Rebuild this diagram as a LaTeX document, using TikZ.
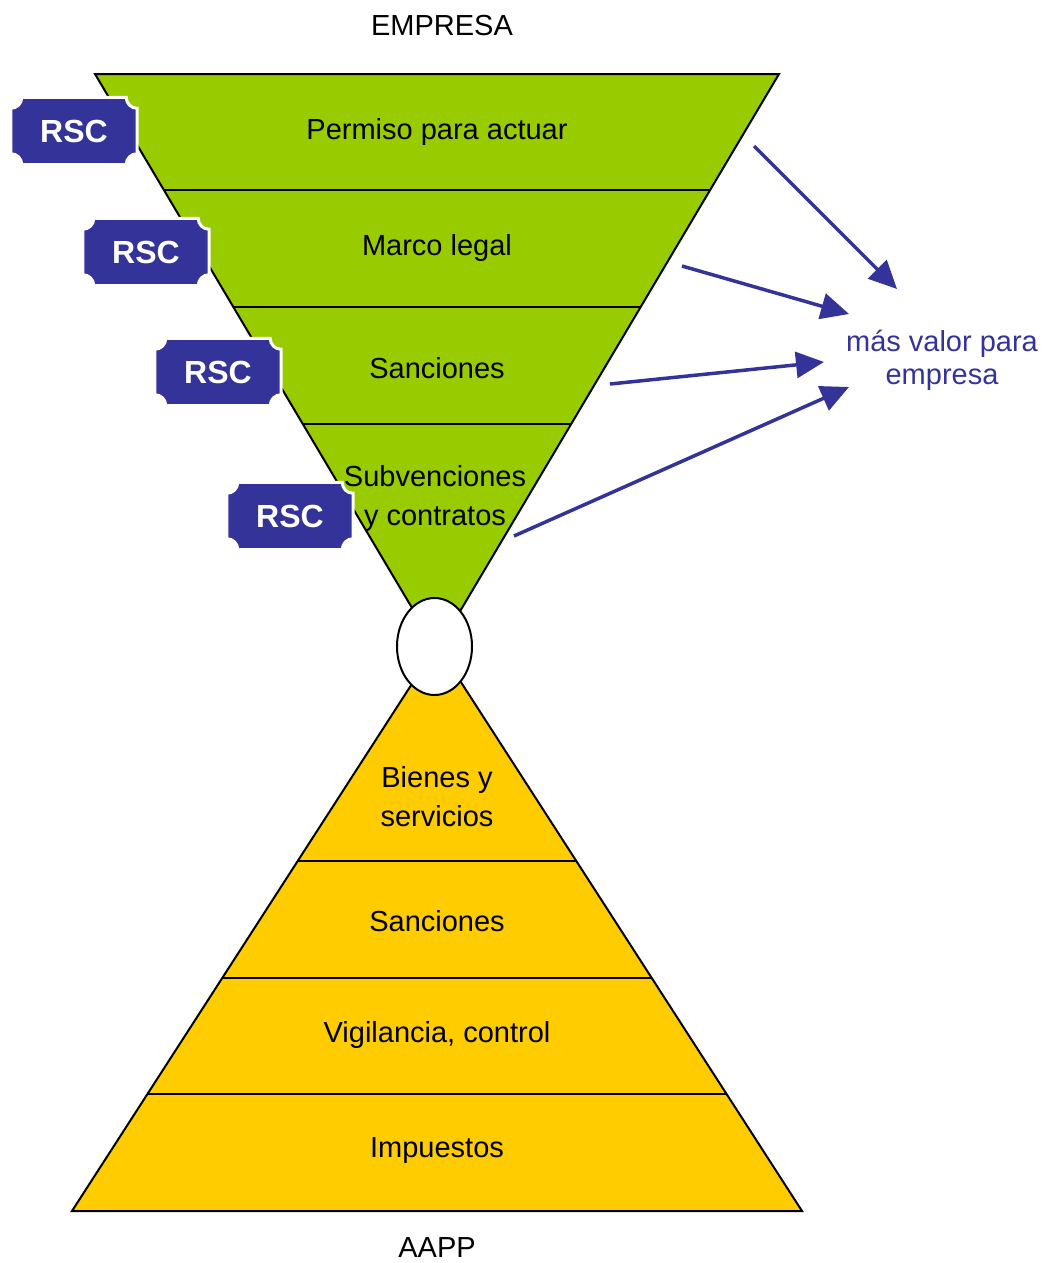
\documentclass[tikz,border=0pt]{standalone}
\usepackage{fontspec}
\setmainfont{Liberation Sans}
\usetikzlibrary{arrows.meta,shapes.geometric}
\pgfdeclarelayer{bg}
\pgfdeclarelayer{mid}
\pgfsetlayers{bg,mid,main}
\definecolor{funnelgreen}{HTML}{99CC00}
\definecolor{pyramidyellow}{HTML}{FFCC00}
\definecolor{rscblue}{HTML}{333399}
\tikzset{
  x=1pt, y=-1pt,
  shell/.style={draw=black, line width=2pt, line join=miter},
  bandline/.style={draw=black, line width=2pt},
  bandtext/.style={font=\fontsize{29}{39}\selectfont, align=center, inner sep=0pt},
  caption/.style={font=\fontsize{29}{33}\selectfont, inner sep=0pt},
  rsc/.style={minimum width=126pt, minimum height=67pt, inner sep=0pt, text=white,
              font=\fontsize{32}{36}\selectfont\bfseries},
  plaque/.style={fill=rscblue, draw=white, line width=3pt},
  gain/.style={draw=rscblue, line width=3.5pt,
               -{Triangle[length=28pt,width=26pt]}},
}
\newcommand\plaqueround[1]{%
  \path[plaque]
    ([yshift=-11pt]#1.north west) arc[start angle=270,end angle=360,radius=11pt]
    -- ([xshift=-11pt]#1.north east) arc[start angle=180,end angle=270,radius=11pt]
    -- ([yshift=11pt]#1.south east) arc[start angle=90,end angle=180,radius=11pt]
    -- ([xshift=11pt]#1.south west) arc[start angle=0,end angle=90,radius=11pt]
    -- cycle;}
\begin{document}
\begin{tikzpicture}
\useasboundingbox (0,0) rectangle (1047,1263);

% funnel (company side) and pyramid (public administration side)
\begin{pgfonlayer}{bg}
  \fill[funnelgreen] (95,74) -- (779,74) -- (437,650) -- cycle;
  \fill[pyramidyellow] (72,1211) -- (802,1211) -- (437,645) -- cycle;
  \begin{scope}
    \clip (95,74) -- (779,74) -- (437,650) -- cycle;
    \foreach \yy in {190,307,424} \draw[bandline] (0,\yy) -- (1047,\yy);
  \end{scope}
  \begin{scope}
    \clip (72,1211) -- (802,1211) -- (437,645) -- cycle;
    \foreach \yy in {861,978,1094} \draw[bandline] (0,\yy) -- (1047,\yy);
  \end{scope}
  \draw[shell] (95,74) -- (779,74) -- (437,650) -- cycle;
  \draw[shell] (72,1211) -- (802,1211) -- (437,645) -- cycle;
\end{pgfonlayer}

\node[draw=black, fill=white, line width=2pt, ellipse, inner sep=0pt,
      minimum width=75pt, minimum height=97pt] (neck) at (434.5,646.5) {};

\node[bandtext] (empresa) at (442,26) {EMPRESA};
\node[bandtext] (aapp) at (437,1248) {AAPP};

\node[bandtext] (permiso) at (437,132) {Permiso para actuar};
\node[bandtext] (marco) at (437,248) {Marco legal};
\node[bandtext] (sanc1) at (437,368) {Sanciones};
\node[bandtext] (subv) at (435,498) {Subvenciones\\y contratos};

\node[bandtext] (bienes) at (437,797) {Bienes y\\servicios};
\node[bandtext] (sanc2) at (437,921) {Sanciones};
\node[bandtext] (vigil) at (437,1035) {Vigilancia, control};
\node[bandtext] (impu) at (437,1151) {Impuestos};

% RSC plaques
\node[rsc] (rsc1) at (74,131) {RSC};
\node[rsc] (rsc2) at (146,252) {RSC};
\node[rsc] (rsc3) at (218,372) {RSC};
\node[rsc] (rsc4) at (290,516) {RSC};
\begin{pgfonlayer}{mid}
  \foreach \n in {rsc1,rsc2,rsc3,rsc4} {\plaqueround{\n}}
\end{pgfonlayer}

% added value for the company
\node[caption, text=rscblue, align=center] (valor) at (942,360) {más valor para\\empresa};
\coordinate (s1) at (754,146);
\coordinate (s2) at (682,266);
\coordinate (s3) at (610,384);
\coordinate (s4) at (514,536);
\coordinate (t1) at (897,289);
\coordinate (t2) at (849,314);
\coordinate (t3) at (824,362);
\coordinate (t4) at (849,387);
\draw[gain] (s1) -- (t1);
\draw[gain] (s2) -- (t2);
\draw[gain] (s3) -- (t3);
\draw[gain] (s4) -- (t4);
\end{tikzpicture}
\end{document}
